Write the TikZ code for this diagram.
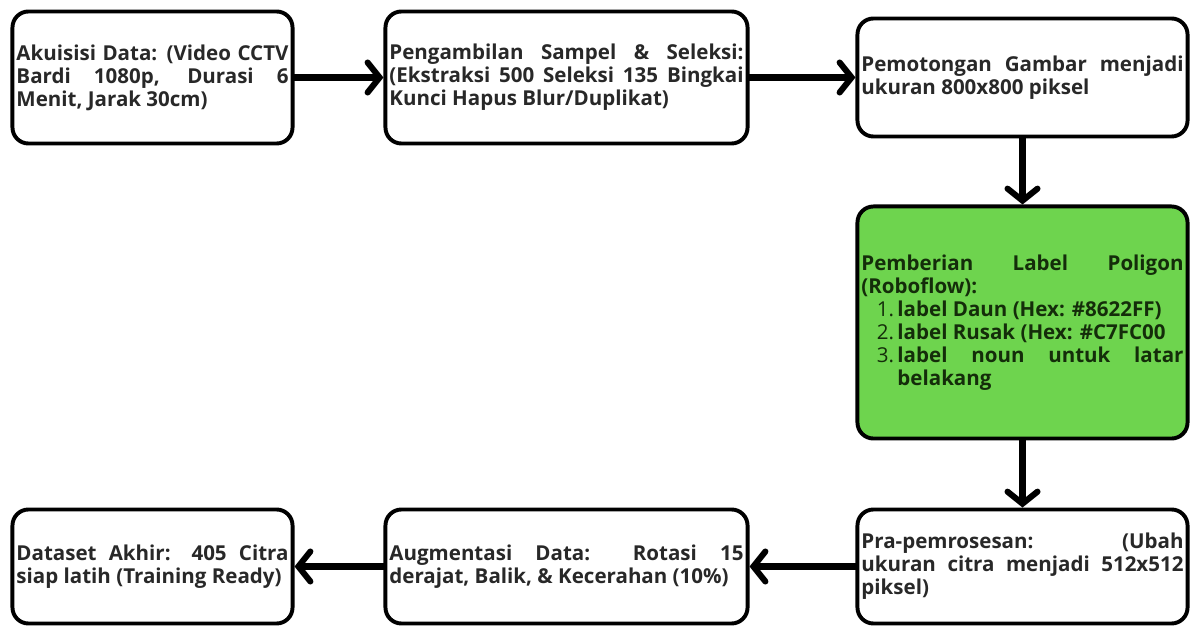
\documentclass[tikz,border=0pt]{standalone}
\usepackage{fontspec}
\setmainfont{Open Sans}
\usetikzlibrary{arrows.meta}

\definecolor{hijau}{RGB}{110,212,78}
\definecolor{teksgelap}{RGB}{40,40,40}
\definecolor{teksdaun}{RGB}{20,45,10}

\newcommand{\aturparagraf}{\tolerance=10000\hyphenpenalty=10000\exhyphenpenalty=10000\relax}

\tikzset{
  tahap/.style={draw=black, line width=2.8pt, rounded corners=0.4cm,
    fill=white, inner xsep=0.1cm, inner ysep=0pt, align=justify,
    text=teksgelap, font=\bfseries\fontsize{14.6}{16.3}\selectfont,
    execute at begin node=\aturparagraf},
  panah/.style={-{Straight Barb[length=0.3cm,width=0.75cm,line cap=round]},
    line width=4.3pt, line cap=round}
}

\begin{document}
\begin{tikzpicture}[x=0.025cm, y=-0.025cm]
\useasboundingbox (0,0) rectangle (1192,628);

% ── Baris atas ────────────────────────────────────────────────
\node[tahap, text width=6.8cm, minimum height=3.3cm] (akuisisi) at (152.5,77.5)
  {Akuisisi Data: (Video CCTV\linebreak Bardi 1080p, Durasi 6\linebreak Menit, Jarak 30cm)};
\node[tahap, text width=8.85cm, minimum height=3.3cm] (sampel) at (566.5,77.5)
  {Pengambilan Sampel \& Seleksi:\linebreak (Ekstraksi 500 Seleksi 135 Bingkai\linebreak Kunci Hapus Blur/Duplikat)};
\node[tahap, text width=8.05cm, minimum height=2.95cm] (potong) at (1022.5,77.5)
  {Pemotongan Gambar menjadi\linebreak ukuran 800x800 piksel};

% ── Label poligon (hijau) ─────────────────────────────────────
\node[tahap, fill=hijau, text=teksdaun, text width=8.05cm, minimum height=5.8cm]
  (label) at (1022.5,322.5)
  {Pemberian Label Poligon\linebreak (Roboflow):\par
   {\leftskip=0.9cm
    \noindent\llap{\mdseries 1.\,}label Daun (Hex: \#8622FF)\par
    \noindent\llap{\mdseries 2.\,}label Rusak (Hex: \#C7FC00\par
    \noindent\llap{\mdseries 3.\,}label noun untuk latar\linebreak belakang\par}};

% ── Baris bawah ───────────────────────────────────────────────
\node[tahap, text width=8.05cm, minimum height=2.85cm] (pra) at (1022.5,566.5)
  {Pra-pemrosesan: (Ubah\linebreak ukuran citra menjadi 512x512\linebreak piksel)};
\node[tahap, text width=8.85cm, minimum height=2.85cm] (augmentasi) at (566.5,566.5)
  {Augmentasi Data: Rotasi 15\linebreak derajat, Balik, \& Kecerahan (10\%)};
\node[tahap, text width=6.8cm, minimum height=2.85cm] (dataset) at (152.5,566.5)
  {Dataset Akhir: 405 Citra\linebreak siap latih (Training Ready)};

% ── Panah alur ────────────────────────────────────────────────
\draw[panah] (akuisisi) -- (sampel);
\draw[panah] (sampel) -- (potong);
\draw[panah] (potong) -- (label);
\draw[panah] (label) -- (pra);
\draw[panah] (pra) -- (augmentasi);
\draw[panah] (augmentasi) -- (dataset);

\end{tikzpicture}
\end{document}
